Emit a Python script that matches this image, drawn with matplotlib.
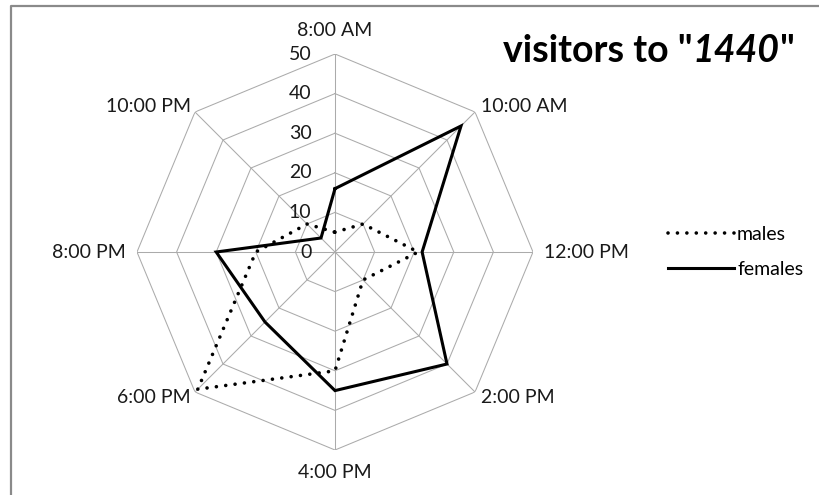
import numpy as np
import matplotlib
matplotlib.use("Agg")
import matplotlib.pyplot as plt
from matplotlib.lines import Line2D

plt.rcParams['font.family'] = ['Lato', 'DejaVu Sans']

# visitor counts per two-hour slot
hours = ['8:00 AM', '10:00 AM', '12:00 PM', '2:00 PM',
         '4:00 PM', '6:00 PM', '8:00 PM', '10:00 PM']
males = [5, 10, 21, 10, 30, 49, 20, 10]
females = [16, 45, 22, 40, 35, 25, 30, 5]
rings = [10, 20, 30, 40, 50]
ring_labels = ['0', '10', '20', '30', '40', '50']

GRID = '#ababab'
LABEL_SIZE = 14

W, H = 820, 495
fig = plt.figure(figsize=(W / 100, H / 100), dpi=100)

# polar axes centred at (335, 252) px, radius 198 px
cx, cy, rad = 335, 252, 198
ax = fig.add_axes([(cx - rad) / W, (H - cy - rad) / H, 2 * rad / W, 2 * rad / H],
                  projection='polar')
ax.set_theta_offset(np.pi / 2)
ax.set_theta_direction(-1)
ax.set_ylim(0, rings[-1])
ax.grid(False)
ax.set_xticks([])
ax.set_yticks([])
ax.spines['polar'].set_visible(False)
ax.patch.set_visible(False)

n = len(hours)
theta = np.arange(n) * 2 * np.pi / n
theta_c = np.append(theta, theta[0])

# octagonal web
for r in rings:
    ax.plot(theta_c, [r] * (n + 1), color=GRID, lw=0.75, zorder=1)
for t in theta:
    ax.plot([t, t], [0, rings[-1]], color=GRID, lw=0.75, zorder=1)

# series
ax.plot(theta_c, males + males[:1], color='black', lw=2.6,
        linestyle=(0, (0.01, 2.6)), dash_capstyle='round', label='males', zorder=3)
ax.plot(theta_c, females + females[:1], color='black', lw=2.2,
        solid_joinstyle='miter', label='females', zorder=3)

# value scale along the top spoke
for i, lab in enumerate(ring_labels):
    ax.annotate(lab, xy=(0, i * 10), xytext=(-17, 0), textcoords='offset points',
                ha='right', va='center', fontsize=LABEL_SIZE, color='#1a1a1a')

# category labels round the outside (offsets in points)
offsets = [(0, 17, 'center'), (4, 4, 'left'), (8, 0, 'left'), (4, -4, 'left'),
           (0, -16, 'center'), (-3, -4, 'right'), (-8, 0, 'right'), (-3, 4, 'right')]
for t, lab, (dx, dy, ha) in zip(theta, hours, offsets):
    ax.annotate(lab, xy=(t, rings[-1]), xytext=(dx, dy), textcoords='offset points',
                ha=ha, va='center', fontsize=LABEL_SIZE, color='#1a1a1a')

# title with the italic name
t1 = fig.text(503 / W, 1 - 62 / H, 'visitors to "', fontsize=27,
              fontweight='bold', ha='left', va='baseline')
t2 = ax.annotate('1440', xy=(1, 0), xycoords=t1, fontsize=27, fontweight='bold',
                 fontstyle='italic', ha='left', va='bottom')
ax.annotate('"', xy=(1, 0), xycoords=t2, fontsize=27, fontweight='bold',
            ha='left', va='bottom')

leg = fig.legend(loc='center left', bbox_to_anchor=(668 / W, 1 - 252 / H),
                 frameon=False, fontsize=LABEL_SIZE, handlelength=3.4,
                 handletextpad=0.15, labelspacing=0.95, borderpad=0,
                 borderaxespad=0)

# chart-area border, only the top and left edges fall inside the image
fig.add_artist(Line2D([11 / W, 11 / W, 1.0], [0.0, 1 - 5.5 / H, 1 - 5.5 / H],
                      transform=fig.transFigure, color='#8a8a8a', lw=1.6))

fig.savefig('out.png', dpi=100)
